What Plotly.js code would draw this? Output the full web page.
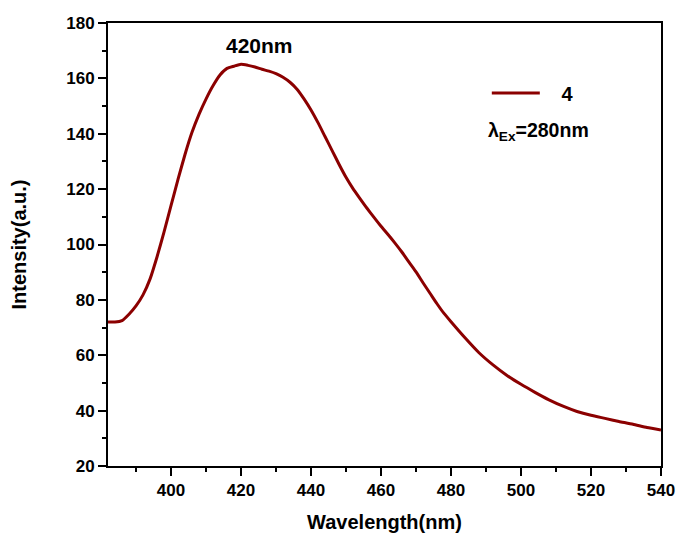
<!DOCTYPE html>
<html>
<head>
<meta charset="utf-8">
<script src="https://cdn.plot.ly/plotly-3.0.1.min.js"></script>
<style>html,body{margin:0;padding:0;background:#fff}#chart{width:679px;height:537px}</style>
</head>
<body>
<div id="chart"></div>
<script>
const wavelength = [382,384,386,388,390,392,394,396,398,400,402,404,406,408,410,412,414,416,418,420,422,424,426,428,430,432,434,436,438,440,442,444,446,448,450,452,454,456,458,460,462,464,466,468,470,472,474,476,478,480,484,488,492,496,500,504,508,512,516,520,524,528,532,536,540];
const intensity = [72,72,72.5,74.8,77.8,81.8,87.5,95.5,104.5,114,123.5,132.5,140.5,147,152.5,157.3,161.2,163.6,164.4,165.1,164.7,164.1,163.3,162.6,161.7,160.4,158.6,156.1,152.6,148.6,144,139,134,129,124.3,120.2,116.6,113.1,109.8,106.6,103.6,100.5,97.2,93.6,90.1,86.2,82.4,78.6,75.1,72.1,66.3,60.9,56.5,52.7,49.5,46.6,43.9,41.6,39.7,38.3,37.2,36.1,35.1,33.9,33];
const seriesName = '\u00a0\u00a0\u00a04';
const peakLabel = '420nm';
const excitationLabel = 'λ<sub>Ex</sub>=280nm';
const xTitle = 'Wavelength(nm)';
const yTitle = 'Intensity(a.u.)';

const FONT = 'Liberation Sans, Arial, sans-serif';
const axisCommon = {
  showline: true, linecolor: '#000', linewidth: 2, mirror: true,
  ticks: 'outside', ticklen: 8, tickwidth: 2, tickcolor: '#000',
  showgrid: false, zeroline: false,
  tickfont: {family: FONT, size: 17, color: '#000', weight: 'bold'}
};
const layout = {
  width: 679, height: 537,
  margin: {l: 108, r: 18, t: 23, b: 71},
  paper_bgcolor: '#fff', plot_bgcolor: '#fff',
  showlegend: true,
  legend: {x: 0.685, y: 0.842, xanchor: 'left', yanchor: 'middle', bgcolor: 'rgba(0,0,0,0)',
           font: {family: FONT, size: 20, color: '#000', weight: 'bold'}, itemwidth: 48},
  xaxis: Object.assign({}, axisCommon, {
    range: [382, 540], dtick: 20, tick0: 400,
    minor: {ticks: 'outside', ticklen: 4, tickwidth: 2, tickcolor: '#000', dtick: 10},
    title: {text: xTitle, font: {family: FONT, size: 20, color: '#000', weight: 'bold'}, standoff: 16}
  }),
  yaxis: Object.assign({}, axisCommon, {
    range: [20, 180], dtick: 20, tick0: 20,
    minor: {ticks: 'outside', ticklen: 4, tickwidth: 2, tickcolor: '#000', dtick: 10},
    title: {text: yTitle, font: {family: FONT, size: 20, color: '#000', weight: 'bold'}, standoff: 34}
  }),
  annotations: [
    {x: 425.4, y: 172, xref: 'x', yref: 'y', text: peakLabel, showarrow: false,
     font: {family: FONT, size: 21, color: '#000', weight: 'bold'}},
    {x: 0.683, y: 0.755, xref: 'paper', yref: 'paper', xanchor: 'left', yanchor: 'middle', text: excitationLabel, showarrow: false,
     font: {family: FONT, size: 19.5, color: '#000', weight: 'bold'}}
  ]
};
Plotly.newPlot('chart', [{
  x: wavelength, y: intensity, type: 'scatter', mode: 'lines', name: seriesName,
  line: {color: '#8B0000', width: 3, shape: 'spline', smoothing: 0.5}
}], layout, {displayModeBar: false, staticPlot: true});
</script>
</body>
</html>
